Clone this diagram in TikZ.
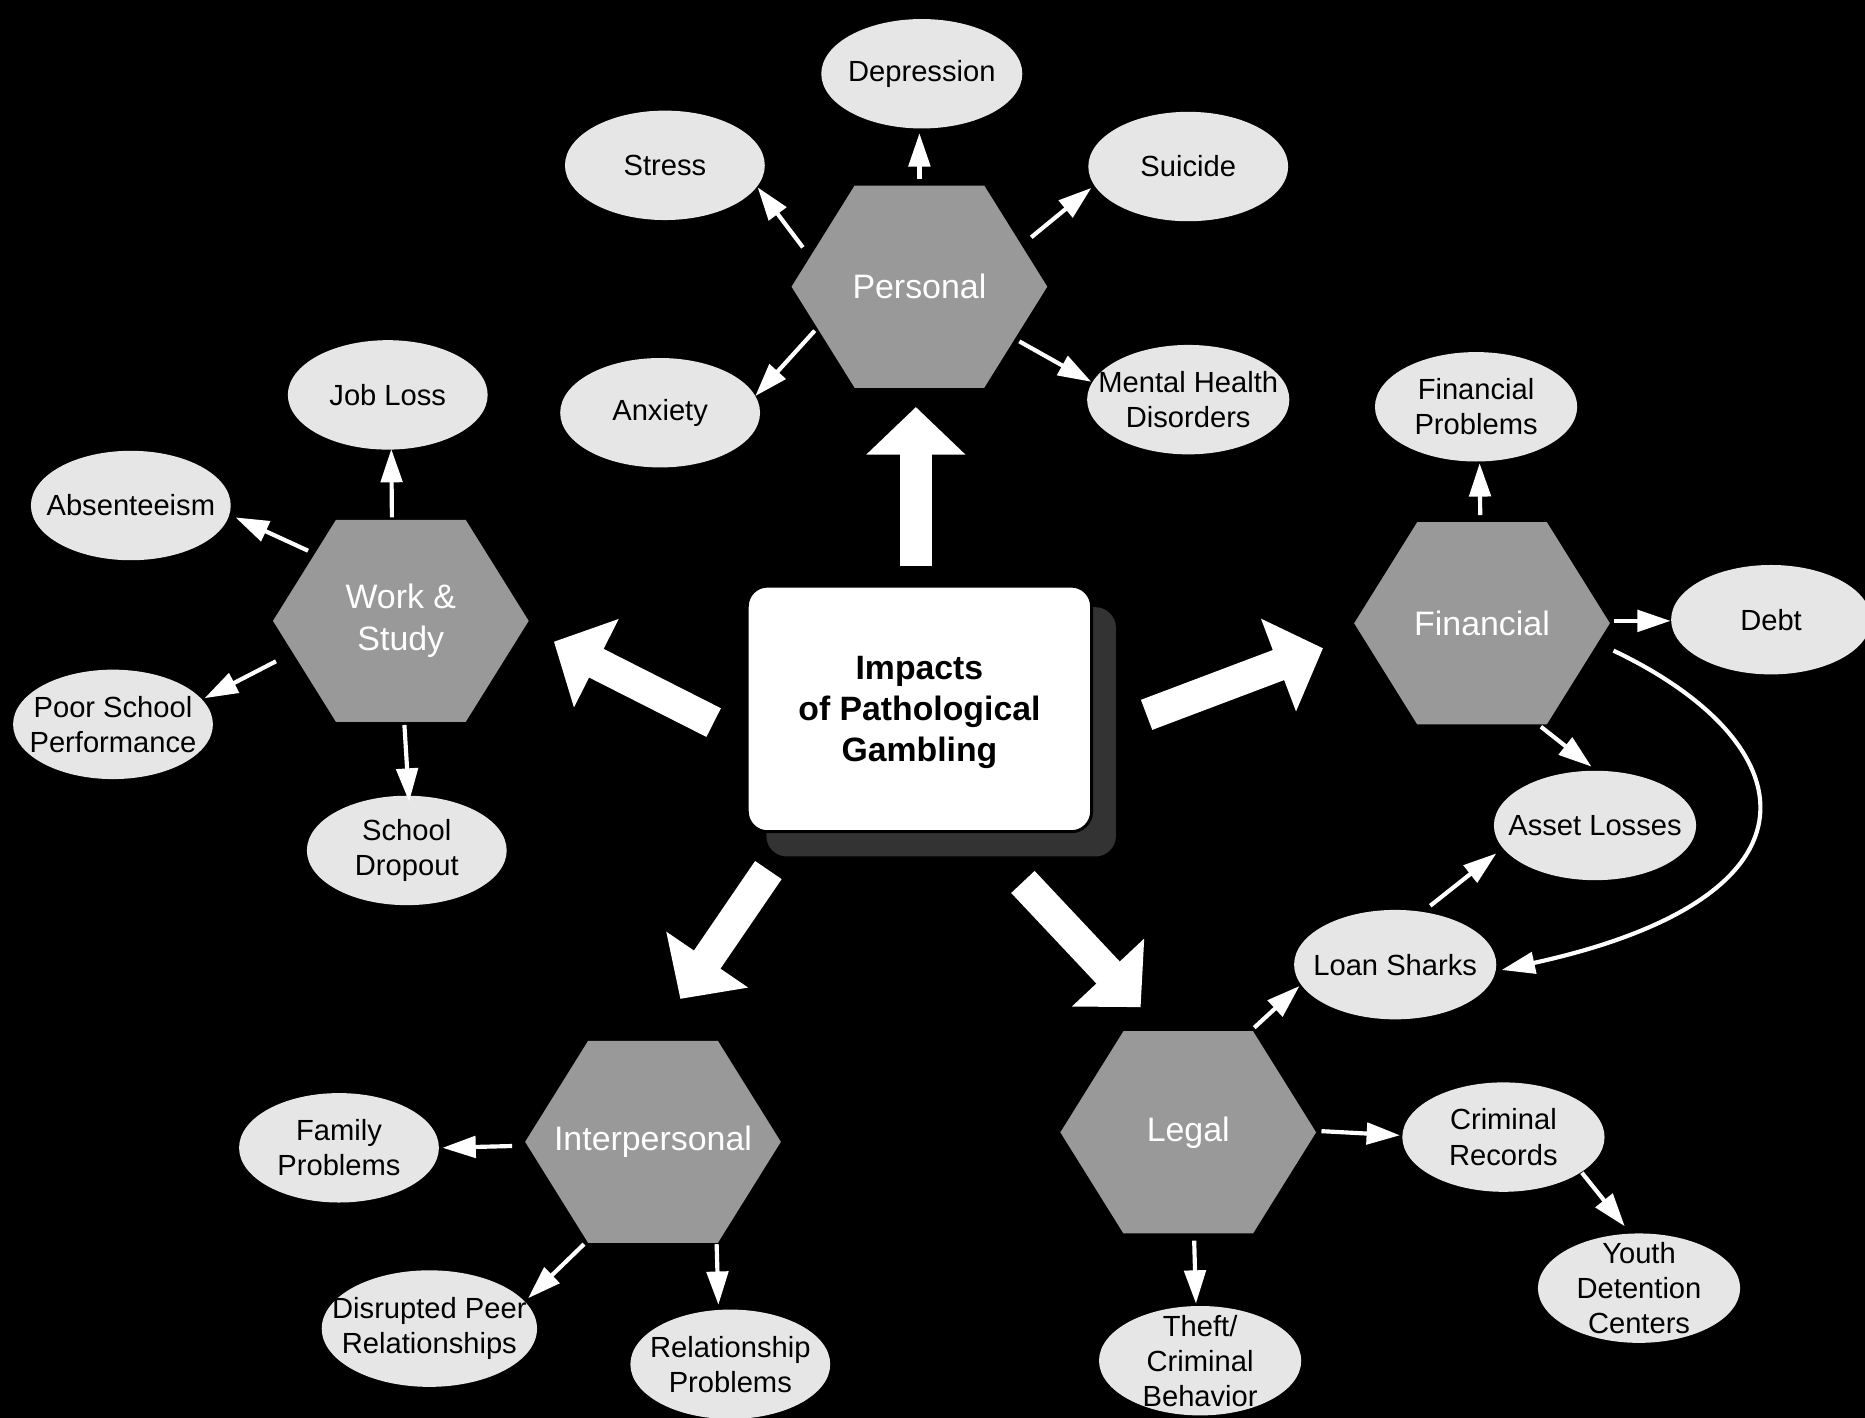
\documentclass[tikz,border=0pt]{standalone}
\usepackage{fontspec}
\setmainfont{Liberation Sans}
\usetikzlibrary{arrows.meta, calc, shapes.geometric, shadows}

\definecolor{hexgray}{HTML}{999999}
\definecolor{ovalgray}{HTML}{E6E6E6}
\definecolor{shadowgray}{HTML}{333333}

\begin{document}
\begin{tikzpicture}[x=1pt, y=-1pt,
  hexa/.style = {rectangle, minimum width=215pt, minimum height=170pt, inner sep=0pt,
    text=white, align=center, font=\fontsize{28.5}{35}\selectfont,
    path picture={\fill[hexgray] (path picture bounding box.west)
      -- ($(path picture bounding box.north west)+(53,0)$)
      -- ($(path picture bounding box.north east)+(-53,0)$)
      -- (path picture bounding box.east)
      -- ($(path picture bounding box.south east)+(-53,0)$)
      -- ($(path picture bounding box.south west)+(53,0)$) -- cycle;}},
  oval/.style = {ellipse, fill=ovalgray, minimum width=168pt, minimum height=92pt,
    inner xsep=-20pt, inner ysep=-12pt, align=center, font=\fontsize{24.5}{29.5}\selectfont},
  mainbox/.style = {rectangle, rounded corners=17pt, fill=white, draw=black, line width=2.5pt,
    minimum width=289.5pt, minimum height=206.5pt, align=center, text depth=0pt,
    font=\bfseries\fontsize{28.4}{34.5}\selectfont,
    drop shadow={shadow xshift=18pt, shadow yshift=-19pt, shadow scale=1.015, fill=shadowgray, opacity=1}},
  link/.style = {white, line width=3.5pt, -{Triangle[length=28pt, width=18pt]}},
  bigarrow/.style = {white, line width=27pt, -{Triangle[length=40pt, width=81pt]}}]

\useasboundingbox (0,0) rectangle (1568,1192);
\fill[black] (0,0) rectangle (1568,1192);

% Center
\node[mainbox] (impacts) at (773,596) {Impacts\\of Pathological\\Gambling};

% Hexagons
\node[hexa] (personal) at (773,241) {Personal};
\node[hexa] (work) at (337,522) {Work \&\\Study};
\node[hexa] (financial) at (1246,524) {Financial};
\node[hexa] (interpersonal) at (549,960) {Interpersonal};
\node[hexa] (legal) at (999,952) {Legal};

% Ovals round Personal
\node[oval, minimum width=169pt] (depression) at (775,62) {Depression};
\node[oval] (stress) at (559,139) {Stress};
\node[oval] (suicide) at (999,140) {Suicide};
\node[oval] (anxiety) at (555,347) {Anxiety};
\node[oval, minimum width=170pt] (mental) at (999,336) {Mental Health\\Disorders};

% Ovals round Work & Study
\node[oval] (jobloss) at (326,332) {Job Loss};
\node[oval] (absent) at (110,425) {Absenteeism};
\node[oval] (poorschool) at (95,609) {Poor School\\Performance};
\node[oval] (dropout) at (342,715) {School\\Dropout};

% Ovals round Financial
\node[oval, minimum width=170pt] (finprob) at (1241,342) {Financial\\Problems};
\node[oval] (debt) at (1489,521) {Debt};
\node[oval, minimum width=170pt] (asset) at (1341,694) {Asset Losses};
\node[oval, minimum width=170pt] (loan) at (1173,811) {Loan Sharks};

% Ovals round Legal
\node[oval, minimum width=170pt] (criminal) at (1264,956) {Criminal\\Records};
\node[oval, minimum width=170pt] (youth) at (1378,1083) {Youth\\Detention\\Centers};
\node[oval, minimum width=170pt] (theft) at (1009,1144) {Theft/\\Criminal\\Behavior};

% Ovals round Interpersonal
\node[oval] (family) at (285,965) {Family\\Problems};
\node[oval, minimum width=181pt, minimum height=98pt] (peer) at (361,1117) {Disrupted Peer\\Relationships};
\node[oval] (relprob) at (614,1147) {Relationship\\Problems};

% Big arrows
\draw[bigarrow] ($(impacts.north)+(-3,-16)$) -- ($(personal.south)+(-3,16)$);
\draw[bigarrow] ($(impacts.west)+(-27,11.5)$) -- ($(work.east)+(21,17.5)$);
\draw[bigarrow] ($(impacts.east)+(45,5)$) -- ($(financial.west)+(-26,21)$);
\draw[bigarrow] ($(impacts.south)+(-127,31)$) -- ($(interpersonal.north)+(23,-35)$);
\draw[bigarrow] ($(impacts.south)+(87,41)$) -- ($(legal.north)+(-40,-20)$);

% Links from Personal
\draw[link] ($(personal)+(0,-90.5)$) -- ($(depression)+(-2,50)$);
\draw[link] ($(personal)+(-98,-33)$) -- ($(stress)+(78,18.5)$);
\draw[link] ($(personal)+(94,-41.5)$) -- ($(suicide)+(-81.5,18)$);
\draw[link] ($(personal)+(-88,37)$) -- ($(anxiety)+(80,-14)$);
\draw[link] ($(personal)+(84,46)$) -- ($(mental)+(-81.5,-15)$);

% Links from Work & Study
\draw[link] ($(work)+(-7.5,-87)$) -- ($(jobloss)+(3,45.5)$);
\draw[link] ($(work)+(-78,-59)$) -- ($(absent)+(88,10)$);
\draw[link] ($(work)+(-105,34)$) -- ($(poorschool)+(77,-22)$);
\draw[link] ($(work)+(3,87.5)$) -- ($(dropout)+(2,-41)$);

% Links from Financial
\draw[link] ($(financial)+(-1.5,-91)$) -- ($(finprob)+(3,47.5)$);
\draw[link] ($(financial)+(111,-2)$) -- ($(debt)+(-84.5,1)$);
\draw[link] ($(financial)+(49.5,87)$) -- ($(asset)+(-3,-49.5)$);
\draw[link] ($(financial)+(110.5,23)$) .. controls +(162,77) and +(283,-62) .. ($(loan)+(89.5,4.5)$);
\draw[link] ($(loan)+(29.5,-49.5)$) -- ($(asset)+(-83,23.5)$);

% Links from Legal
\draw[link] ($(legal)+(55.5,-88)$) -- ($(loan)+(-80.5,18)$);
\draw[link] ($(legal)+(112,-1)$) -- ($(criminal)+(-87,-1.5)$);
\draw[link] ($(legal)+(5,91)$) -- ($(theft)+(-3.5,-48)$);
\draw[link] ($(criminal)+(66,30)$) -- ($(youth)+(-12,-52)$);

% Links from Interpersonal
\draw[link] ($(interpersonal)+(-118.5,3.5)$) -- ($(family)+(87,0)$);
\draw[link] ($(interpersonal)+(-58,86)$) -- ($(peer)+(83,-25.5)$);
\draw[link] ($(interpersonal)+(53.5,86)$) -- ($(relprob)+(-10,-50)$);

\end{tikzpicture}
\end{document}
